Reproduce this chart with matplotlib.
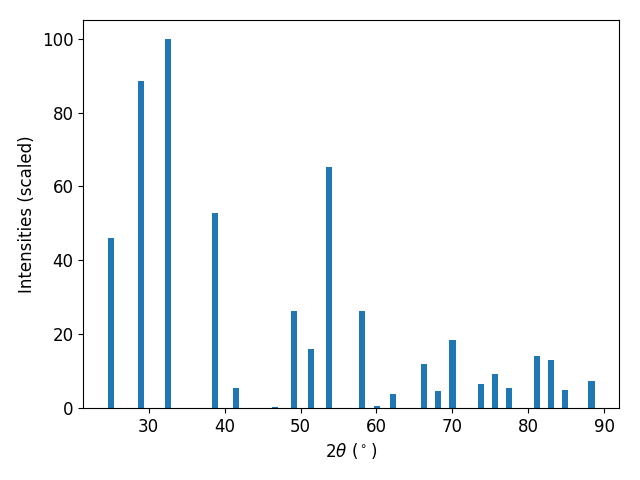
import matplotlib
matplotlib.use("Agg")
import matplotlib.pyplot as plt

# peak positions (2theta, degrees) and scaled intensities
two_theta = [25.0, 29.0, 32.5, 38.7, 41.45, 46.65, 49.15, 51.4, 53.7, 58.1,
             60.1, 62.2, 66.2, 68.05, 70.0, 73.7, 75.65, 77.5, 81.1, 83.0,
             84.8, 88.3]
intensity = [46.0, 88.6, 100.0, 52.8, 5.5, 0.3, 26.2, 15.9, 65.3, 26.2,
             0.5, 3.9, 11.8, 4.5, 18.3, 6.4, 9.1, 5.5, 14.2, 13.1,
             4.8, 7.2]

fig, ax = plt.subplots(figsize=(6.4, 4.8), dpi=100)
ax.bar(two_theta, intensity, width=0.8)
ax.set_xlabel(r'$2\theta$ ($^\circ$)', fontsize=12)
ax.set_ylabel('Intensities (scaled)', fontsize=12)
ax.tick_params(labelsize=12)
fig.subplots_adjust(left=0.13, right=0.967, top=0.958, bottom=0.15)
plt.savefig('out.png', dpi=100)
